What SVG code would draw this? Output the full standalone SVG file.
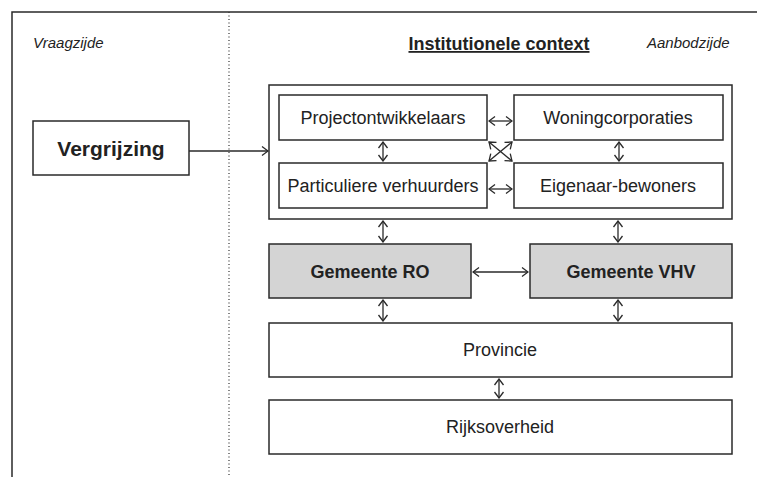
<svg xmlns="http://www.w3.org/2000/svg" width="757" height="477" viewBox="0 0 757 477">
<style>
.box{fill:#fff;stroke:#2a2a2a;stroke-width:1.5}
.grey{fill:#d4d4d4;stroke:#2a2a2a;stroke-width:1.5}
.t{font-family:"Liberation Sans",Arial,sans-serif;font-size:18px;fill:#222;text-anchor:middle}
.b{font-weight:bold}
.i{font-family:"Liberation Sans",Arial,sans-serif;font-size:15px;font-style:italic;fill:#222}
.c{fill:none;stroke:#2a2a2a;stroke-width:1.3}
.a{marker-start:url(#ah);marker-end:url(#ah)}
</style>
<defs>
<marker id="ah" viewBox="0 0 12 12" refX="11" refY="6" markerWidth="12" markerHeight="12" markerUnits="userSpaceOnUse" orient="auto-start-reverse">
<polyline points="5,1.5 11,6 5,10.5" fill="none" stroke="#2a2a2a" stroke-width="1.3"/>
</marker>
</defs>
<rect width="757" height="477" fill="#fff"/>
<g id="frame">
<path d="M12,477 V12 H757" fill="none" stroke="#2a2a2a" stroke-width="1.5"/>
<line x1="229" y1="12" x2="229" y2="477" stroke="#333" stroke-width="1.2" stroke-dasharray="1 2.5"/>
<text class="i" x="33" y="48">Vraagzijde</text>
<text class="i" x="647" y="48">Aanbodzijde</text>
<text class="t b" x="499" y="50" text-decoration="underline">Institutionele context</text>
</g>
<g id="container"><rect class="box" x="269" y="85" width="463" height="134" stroke-width="2"/></g>
<g id="vergrijzing"><rect class="box" x="33" y="121" width="156" height="54"/><text class="t b" x="111" y="156" style="font-size:21px">Vergrijzing</text></g>
<g id="projectontwikkelaars"><rect class="box" x="279" y="95" width="208" height="45"/><text class="t" x="383" y="124">Projectontwikkelaars</text></g>
<g id="woningcorporaties"><rect class="box" x="514" y="95" width="209" height="45"/><text class="t" x="618" y="124">Woningcorporaties</text></g>
<g id="particuliere"><rect class="box" x="279" y="163" width="208" height="45"/><text class="t" x="383" y="192">Particuliere verhuurders</text></g>
<g id="eigenaar"><rect class="box" x="514" y="163" width="209" height="45"/><text class="t" x="618" y="192">Eigenaar-bewoners</text></g>
<g id="gemeente-ro"><rect class="grey" x="269" y="244" width="202" height="54"/><text class="t b" x="370" y="278">Gemeente RO</text></g>
<g id="gemeente-vhv"><rect class="grey" x="530" y="244" width="202" height="54"/><text class="t b" x="631" y="278">Gemeente VHV</text></g>
<g id="provincie"><rect class="box" x="269" y="323" width="463" height="54"/><text class="t" x="500" y="356">Provincie</text></g>
<g id="rijksoverheid"><rect class="box" x="269" y="400" width="463" height="54"/><text class="t" x="500" y="433">Rijksoverheid</text></g>
<g id="connectors">
<line class="c" x1="189" y1="151" x2="268" y2="151" marker-end="url(#ah)"/>
<line class="c a" x1="489" y1="121" x2="512" y2="121"/>
<line class="c a" x1="489" y1="189" x2="512" y2="189"/>
<line class="c a" x1="383" y1="142" x2="383" y2="161"/>
<line class="c a" x1="619" y1="142" x2="619" y2="161"/>
<line class="c a" x1="489" y1="142" x2="512" y2="161"/>
<line class="c a" x1="512" y1="142" x2="489" y2="161"/>
<line class="c a" x1="383" y1="221" x2="383" y2="242"/>
<line class="c a" x1="618" y1="221" x2="618" y2="242"/>
<line class="c a" x1="473" y1="272" x2="528" y2="272"/>
<line class="c a" x1="383" y1="300" x2="383" y2="321"/>
<line class="c a" x1="618" y1="300" x2="618" y2="321"/>
<line class="c a" x1="499" y1="379" x2="499" y2="398"/>
</g>
</svg>
